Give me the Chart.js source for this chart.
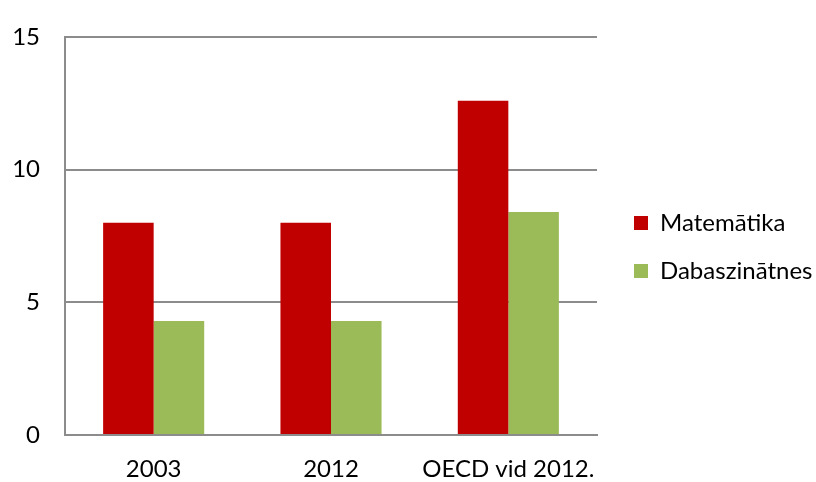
<!DOCTYPE html>
<html>
<head>
<meta charset="utf-8">
<script src="https://cdn.jsdelivr.net/npm/chart.js@4/dist/chart.umd.min.js"></script>
<style>
  html, body { margin: 0; padding: 0; background: #fff; }
  #wrap { width: 816px; height: 482px; position: relative; }
</style>
</head>
<body>
<div id="wrap"><canvas id="grafiks"></canvas></div>
<script>
const kategorijas = ['2003', '2012', 'OECD vid 2012.'];
const matematika = [8.0, 8.0, 12.6];
const dabaszinatnes = [4.3, 4.3, 8.4];
const yTicks = [0, 5, 10, 15];

// where the plot box and legend sit in the reference
const merkis = { left: 65, top: 22, right: 597, bottom: 435, legendLeft: 610 };
let atstarpe = 13;   // gap between plot and legend
let pad = { left: 12, top: 22, right: 4, bottom: 1 };

Chart.defaults.font.family = "Lato, 'Open Sans', sans-serif";
Chart.defaults.font.size = 24;
Chart.defaults.font.lineHeight = 1;
Chart.defaults.color = '#000';

function zimet() {
    const chart = new Chart(document.getElementById('grafiks').getContext('2d'), {
        type: 'bar',
        data: {
            labels: kategorijas,
            datasets: [
                { label: 'Matemātika', data: matematika, backgroundColor: '#c00000', categoryPercentage: 0.57, barPercentage: 1.0 },
                { label: 'Dabaszinātnes', data: dabaszinatnes, backgroundColor: '#9bbb59', categoryPercentage: 0.57, barPercentage: 1.0 }
            ]
        },
        options: {
            responsive: true,
            maintainAspectRatio: false,
            animation: false,
            layout: { padding: { ...pad } },
            plugins: {
                tooltip: { enabled: false },
                legend: {
                    position: 'right',
                    maxWidth: 260,
                    // empty title only pushes the items down a little
                    title: { display: true, text: '', padding: 0, font: { size: 14, lineHeight: 1 } },
                    labels: {
                        boxWidth: 14,
                        boxHeight: 14,
                        padding: 24,
                        font: { size: 24 }
                    }
                }
            },
            scales: {
                x: {
                    grid: { display: false, drawTicks: false },
                    border: { color: '#8c8c8c', width: 2 },
                    ticks: { padding: 22, maxRotation: 0, minRotation: 0, autoSkip: false }
                },
                y: {
                    min: 0,
                    max: 15,
                    afterBuildTicks: axis => { axis.ticks = yTicks.map(v => ({ value: v })); },
                    grid: { color: '#8c8c8c', lineWidth: 2, drawTicks: false },
                    border: { color: '#8c8c8c', width: 2 },
                    ticks: { padding: 25 }
                },
                tukss: {
                    position: 'right',
                    grid: { display: false, drawTicks: false },
                    border: { display: false },
                    ticks: { display: false },
                    afterFit: s => { s.width = atstarpe; }
                }
            }
        }
    });

    // nudge paddings until the plot box lands on the reference position
    for (let i = 0; i < 3; i++) {
        const y = chart.scales.y;
        const x = chart.scales.x;
        const l = chart.legend;
        const augsa = y.getPixelForValue(yTicks[yTicks.length - 1]);
        const apaksa = y.getPixelForValue(yTicks[0]);
        pad.left += merkis.left - x.left;
        pad.top += merkis.top - augsa;
        pad.bottom += apaksa - merkis.bottom;
        pad.right += l.left - merkis.legendLeft;
        atstarpe += (merkis.legendLeft - merkis.right) - (l.left - x.right);
        chart.options.layout.padding = { ...pad };
        chart.update();
    }
}

document.fonts.load('24px Lato').then(zimet, zimet);
</script>
</body>
</html>
